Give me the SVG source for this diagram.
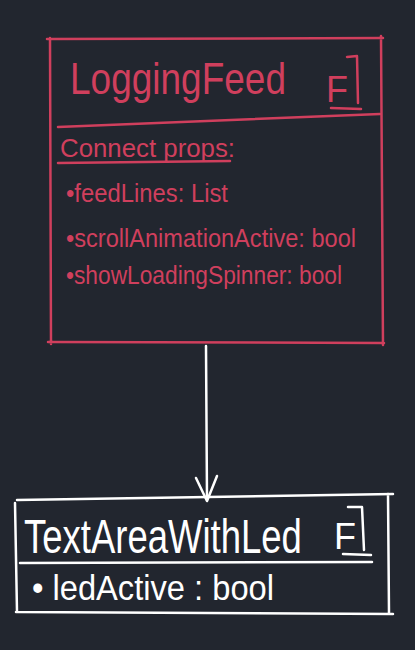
<svg xmlns="http://www.w3.org/2000/svg" width="415" height="650" viewBox="0 0 415 650">
<style>
.red{fill:none;stroke:#d03f5d;stroke-width:2.5;stroke-linecap:round;stroke-linejoin:round}
.wht{fill:none;stroke:#ffffff;stroke-width:2.5;stroke-linecap:round;stroke-linejoin:round}
.rt{fill:#d03f5d;font-family:"Liberation Sans","DejaVu Sans",sans-serif}
.wt{fill:#ffffff;font-family:"Liberation Sans","DejaVu Sans",sans-serif}
</style>
<rect x="0" y="0" width="415" height="650" fill="#22262f"/>
<g id="connectors">
<path class="wht" d="M206 346 L207 500"/>
<path class="wht" d="M196 478 L207 501 L217 476"/>
</g>
<g id="LoggingFeed">
<path class="red" d="M47 39 L383 38 M50 38 L51 344 M381 36 L383 345 M48 342 L384 343"/>
<path class="red" d="M58 127 L380 114"/>
<text class="rt" transform="translate(70 94) scale(1 1.22)" x="0" y="0" font-size="37">LoggingFeed</text>
<text class="rt" x="326" y="102" font-size="36">F</text>
<path class="red" d="M347 57 L357 56 L358 103 M331 108 L361 109"/>
<text class="rt" x="60" y="157" font-size="25" textLength="175" lengthAdjust="spacingAndGlyphs">Connect props:</text>
<path class="red" d="M58 163 L230 161"/>
<text class="rt" x="66" y="202" font-size="25" textLength="162" lengthAdjust="spacingAndGlyphs">•feedLines: List</text>
<text class="rt" x="66" y="247" font-size="25" textLength="290" lengthAdjust="spacingAndGlyphs">•scrollAnimationActive: bool</text>
<text class="rt" x="66" y="284" font-size="25" textLength="276" lengthAdjust="spacingAndGlyphs">•showLoadingSpinner: bool</text>
</g>
<g id="TextAreaWithLed">
<path class="wht" d="M17 500 L393 494 M15 503 L17 612 M388 494 L389 613 M16 612 L393 614"/>
<path class="wht" d="M20 563 L372 562"/>
<text class="wt" transform="translate(24 553) scale(1 1.3)" x="0" y="0" font-size="36.5">TextAreaWithLed</text>
<text class="wt" x="334" y="549" font-size="36">F</text>
<path class="wht" d="M348 507 L362 507 L364 550 M343 554 L371 555"/>
<text class="wt" x="32" y="600" font-size="35" textLength="242" lengthAdjust="spacingAndGlyphs">• ledActive : bool</text>
</g>
</svg>
